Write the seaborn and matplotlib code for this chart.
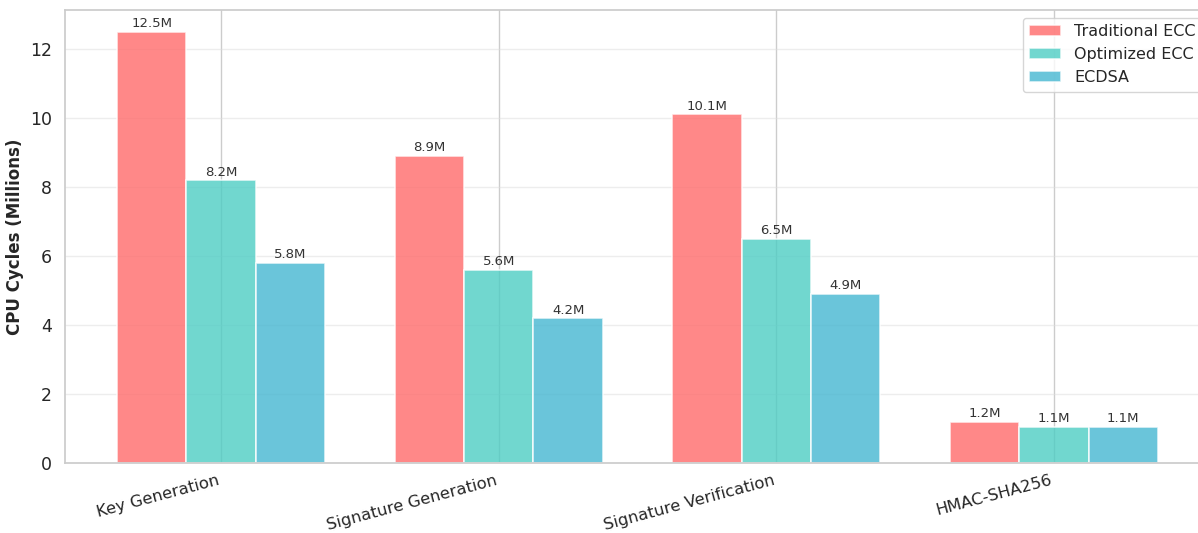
import pandas as pd
import seaborn as sns
import matplotlib.pyplot as plt

# data
operations = ['Key Generation', 'Signature Generation', 'Signature Verification', 'HMAC-SHA256']
methods = ['Traditional ECC', 'Optimized ECC', 'ECDSA']
traditional_ecc = [12.5, 8.9, 10.1, 1.2]
optimized_ecc = [8.2, 5.6, 6.5, 1.05]
ecdsa = [5.8, 4.2, 4.9, 1.05]
colors = ['#FF6B6B', '#4ECDC4', '#45B7D1']

df = pd.DataFrame({
    'operation': operations * 3,
    'method': [m for m in methods for _ in operations],
    'cycles': traditional_ecc + optimized_ecc + ecdsa,
})

sns.set_theme(style='whitegrid')
plt.rcParams['font.family'] = ['DejaVu Sans']

fig = plt.figure(figsize=(11.98, 5.33), dpi=100)
ax = fig.add_axes([65 / 1198, 1 - 463 / 533, 1145 / 1198, 453 / 533])

sns.barplot(data=df, x='operation', y='cycles', hue='method',
            palette=colors, saturation=1, width=0.75, alpha=0.8,
            edgecolor='white', linewidth=1.2, ax=ax)

for cont in ax.containers:
    ax.bar_label(cont, labels=[f'{v:.1f}M' for v in cont.datavalues],
                 fontsize=9.5, color='#333333', padding=1)

ax.set_xlim(-0.5625, 3.5625)
ax.set_ylim(0, 13.125)
ax.set_xlabel('')
ax.set_ylabel('CPU Cycles (Millions)', fontsize=12, fontweight='bold')
ax.tick_params(axis='y', labelsize=12.5)
ax.tick_params(axis='x', labelsize=11.8, pad=1)
plt.setp(ax.get_xticklabels(), rotation=15, ha='right')

for sp in ax.spines.values():
    sp.set_color('#cccccc')
ax.grid(True, color='#dddddd', alpha=0.5)
ax.xaxis.grid(True, color='#cccccc', alpha=1.0)

leg = ax.legend(loc='upper right', fontsize=11.5, frameon=True)
leg.get_frame().set_edgecolor('#cccccc')

fig.savefig('out.png', dpi=100)
